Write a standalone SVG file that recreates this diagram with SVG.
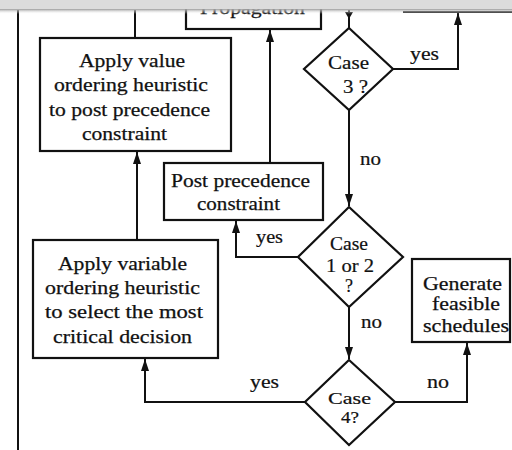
<svg xmlns="http://www.w3.org/2000/svg" width="512" height="450" viewBox="0 0 512 450">
<defs>
<marker id="arr" viewBox="0 0 12 8" refX="12" refY="4" markerWidth="12" markerHeight="8" markerUnits="userSpaceOnUse" orient="auto">
<path d="M0,0 L12,4 L0,8 z" fill="#111"/>
</marker>
<linearGradient id="shade" x1="0" y1="0" x2="0" y2="1">
<stop offset="0" stop-color="#9a9a9a"/>
<stop offset="1" stop-color="#ffffff" stop-opacity="0"/>
</linearGradient>
</defs>
<style>
.box{fill:#fff;stroke:#111;stroke-width:2.2}
.dia{fill:#fff;stroke:#111;stroke-width:2.2}
.ln{fill:none;stroke:#111;stroke-width:2}
.t{font-family:"Liberation Serif","Times New Roman",serif;font-size:18px;fill:#111;stroke:#111;stroke-width:0.25}
.d{font-family:"Liberation Serif","Times New Roman",serif;font-size:19px;fill:#111;stroke:#111;stroke-width:0.2}
.d4{font-family:"Liberation Serif","Times New Roman",serif;font-size:16px;fill:#111;stroke:#111;stroke-width:0.2}
.l{font-family:"Liberation Serif","Times New Roman",serif;font-size:18px;fill:#111;stroke:#111;stroke-width:0.2}
</style>
<rect width="512" height="450" fill="#fff"/>

<g id="propagation">
<rect class="box" x="186" y="-10" width="135" height="39"/>
<text class="t" x="200" y="14" textLength="105" lengthAdjust="spacingAndGlyphs">Propagation</text>
</g>

<g id="connectors">
<path class="ln" d="M18,10 V450"/>
<path class="ln" d="M135,10 V38"/>
<path class="ln" d="M137,240 V152" marker-end="url(#arr)"/>
<path class="ln" d="M270,163 V30" marker-end="url(#arr)"/>
<path class="ln" d="M349,10 V28"/>
<path d="M345,12 L353,12 L349,19 z" fill="#111"/>
<path class="ln" d="M393,69 H458 V13" marker-end="url(#arr)"/>
<path class="ln" d="M403,12 H512"/>
<path class="ln" d="M349,110 V206" marker-end="url(#arr)"/>
<path class="ln" d="M298,257 H236 V221" marker-end="url(#arr)"/>
<path class="ln" d="M349,307 V359" marker-end="url(#arr)"/>
<path class="ln" d="M305,402 H145 V359" marker-end="url(#arr)"/>
<path class="ln" d="M395,402 H467 V343" marker-end="url(#arr)"/>
<text class="l" x="410" y="60" textLength="29" lengthAdjust="spacingAndGlyphs">yes</text>
<text class="l" x="360" y="165" textLength="21" lengthAdjust="spacingAndGlyphs">no</text>
<text class="l" x="256" y="243" textLength="27" lengthAdjust="spacingAndGlyphs">yes</text>
<text class="l" x="361" y="328" textLength="21" lengthAdjust="spacingAndGlyphs">no</text>
<text class="l" x="427" y="388" textLength="22" lengthAdjust="spacingAndGlyphs">no</text>
<text class="l" x="250" y="388" textLength="29" lengthAdjust="spacingAndGlyphs">yes</text>
</g>

<g id="apply-value">
<rect class="box" x="40" y="38" width="191" height="113"/>
<text class="t" x="79" y="67" textLength="106" lengthAdjust="spacingAndGlyphs">Apply value</text>
<text class="t" x="54" y="91" textLength="154" lengthAdjust="spacingAndGlyphs">ordering heuristic</text>
<text class="t" x="49" y="116" textLength="161" lengthAdjust="spacingAndGlyphs">to post precedence</text>
<text class="t" x="82" y="140" textLength="85" lengthAdjust="spacingAndGlyphs">constraint</text>
</g>

<g id="post-precedence">
<rect class="box" x="164" y="163" width="159" height="57"/>
<text class="t" x="171" y="187" textLength="139" lengthAdjust="spacingAndGlyphs">Post precedence</text>
<text class="t" x="197" y="210" textLength="83" lengthAdjust="spacingAndGlyphs">constraint</text>
</g>

<g id="apply-variable">
<rect class="box" x="33" y="240" width="185" height="118"/>
<text class="t" x="58" y="270" textLength="129" lengthAdjust="spacingAndGlyphs">Apply variable</text>
<text class="t" x="45" y="294" textLength="155" lengthAdjust="spacingAndGlyphs">ordering heuristic</text>
<text class="t" x="45" y="318" textLength="158" lengthAdjust="spacingAndGlyphs">to select the most</text>
<text class="t" x="53" y="343" textLength="139" lengthAdjust="spacingAndGlyphs">critical decision</text>
</g>

<g id="case3">
<polygon class="dia" points="349,28 393,69 349,110 304,69"/>
<text class="d" x="328" y="69" textLength="41" lengthAdjust="spacingAndGlyphs">Case</text>
<text class="d" x="343" y="93" textLength="25" lengthAdjust="spacingAndGlyphs">3 ?</text>
</g>

<g id="case12">
<polygon class="dia" points="349,207 403,257 349,307 298,257"/>
<text class="d" x="330" y="250" textLength="38" lengthAdjust="spacingAndGlyphs">Case</text>
<text class="d" x="326" y="272" textLength="48" lengthAdjust="spacingAndGlyphs">1 or 2</text>
<text class="d" x="345" y="292" textLength="8" lengthAdjust="spacingAndGlyphs">?</text>
</g>

<g id="case4">
<polygon class="dia" points="349,360 395,402 349,445 305,402"/>
<text class="d4" x="328" y="404" textLength="43" lengthAdjust="spacingAndGlyphs">Case</text>
<text class="d4" x="341" y="423" textLength="18" lengthAdjust="spacingAndGlyphs">4?</text>
</g>

<g id="generate">
<rect class="box" x="412" y="259" width="98" height="83"/>
<text class="t" x="423" y="290" textLength="79" lengthAdjust="spacingAndGlyphs">Generate</text>
<text class="t" x="432" y="310" textLength="68" lengthAdjust="spacingAndGlyphs">feasible</text>
<text class="t" x="423" y="332" textLength="86" lengthAdjust="spacingAndGlyphs">schedules</text>
</g>

<rect x="0" y="0" width="512" height="9" fill="#dcdcdc"/>
<rect x="0" y="9" width="512" height="5" fill="url(#shade)"/>
</svg>
